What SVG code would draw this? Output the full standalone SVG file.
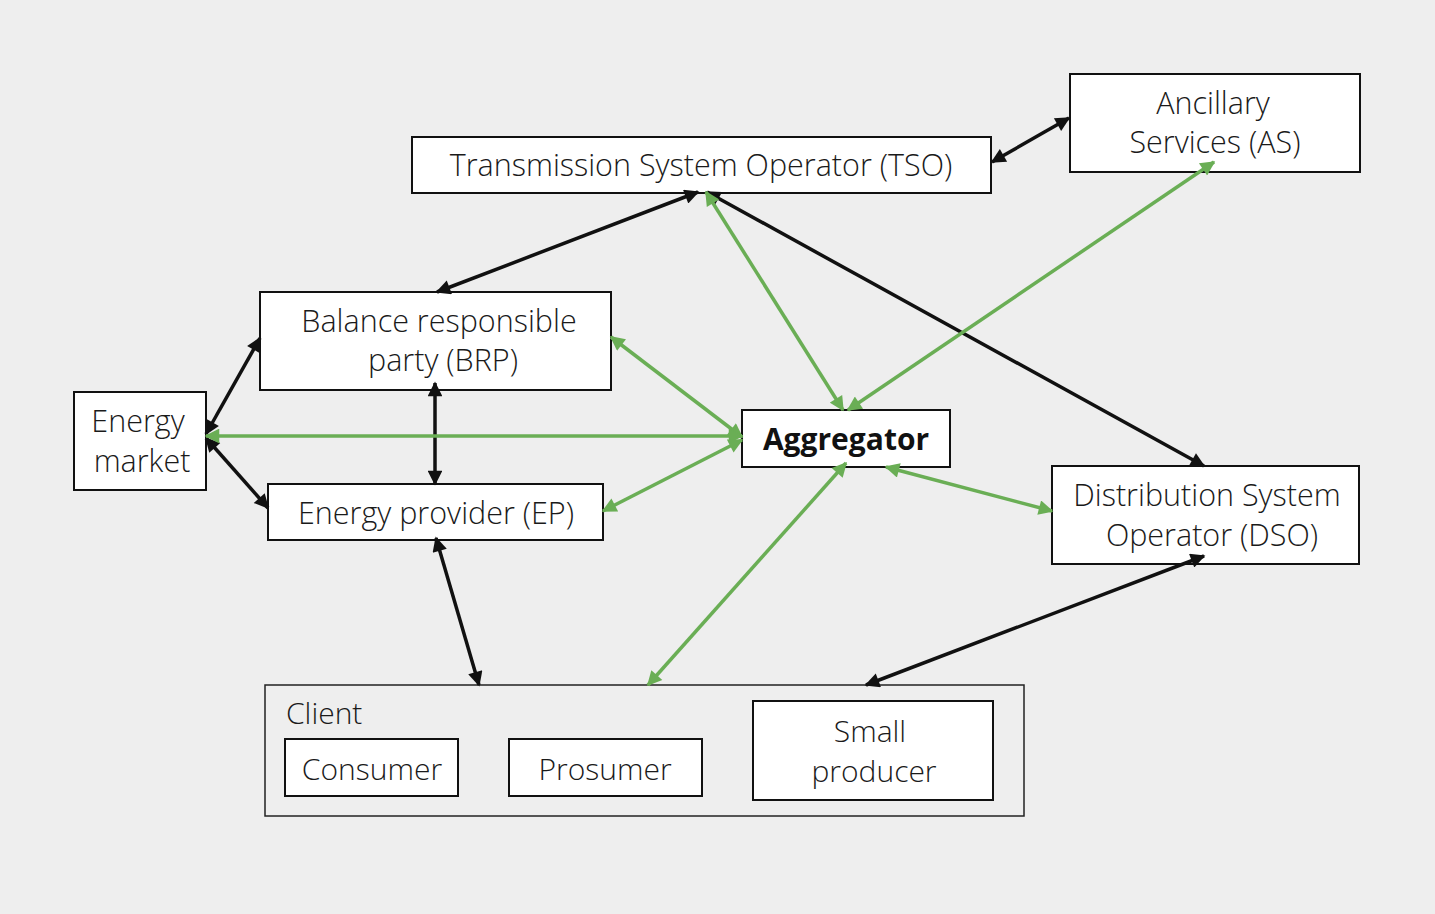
<svg xmlns="http://www.w3.org/2000/svg" width="1435" height="914" viewBox="0 0 1435 914">
<defs>
<style>
.box{fill:#fff;stroke:#111;stroke-width:2}
.t{font-family:"Open Sans","Liberation Sans",sans-serif;font-weight:300;font-size:30.5px;fill:#1a1a1a;text-anchor:middle}
.tb{font-family:"Open Sans","Liberation Sans",sans-serif;font-weight:700;font-size:30px;fill:#111;text-anchor:middle}
.tc{font-family:"Open Sans","Liberation Sans",sans-serif;font-weight:300;font-size:30px;fill:#1a1a1a;text-anchor:middle}
.k{stroke:#111;stroke-width:3.5;fill:none;marker-start:url(#ak);marker-end:url(#ak)}
.g{stroke:#6aae55;stroke-width:3.5;fill:none;marker-start:url(#ag);marker-end:url(#ag)}
</style>
<marker id="ak" viewBox="0 0 10 10" refX="9" refY="5" markerWidth="4.8" markerHeight="4.2" orient="auto-start-reverse" markerUnits="strokeWidth"><path d="M0,0 L10,5 L0,10 z" fill="#111"/></marker>
<marker id="ag" viewBox="0 0 10 10" refX="9" refY="5" markerWidth="4.8" markerHeight="4.2" orient="auto-start-reverse" markerUnits="strokeWidth"><path d="M0,0 L10,5 L0,10 z" fill="#6aae55"/></marker>
</defs>
<rect width="1435" height="914" fill="#eeeeee"/>
<g id="tso"><rect class="box" x="412" y="137" width="579" height="56"/><text class="t" x="701" y="176">Transmission System Operator (TSO)</text></g>
<g id="as"><rect class="box" x="1070" y="74" width="290" height="98"/><text class="t" x="1213" y="114">Ancillary</text><text class="t" x="1215" y="153">Services (AS)</text></g>
<g id="brp"><rect class="box" x="260" y="292" width="351" height="98"/><text class="t" x="439" y="332">Balance responsible</text><text class="t" x="443" y="371">party (BRP)</text></g>
<g id="market"><rect class="box" x="74" y="392" width="132" height="98"/><text class="t" x="138" y="432">Energy</text><text class="t" x="142" y="472">market</text></g>
<g id="aggregator"><rect class="box" x="742" y="410" width="208" height="57"/><text class="tb" x="846" y="450">Aggregator</text></g>
<g id="ep"><rect class="box" x="268" y="484" width="335" height="56"/><text class="t" x="436" y="524">Energy provider (EP)</text></g>
<g id="dso"><rect class="box" x="1052" y="466" width="307" height="98"/><text class="t" x="1207" y="506">Distribution System</text><text class="t" x="1212" y="546">Operator (DSO)</text></g>
<g id="client"><rect x="265" y="685" width="759" height="131" fill="none" stroke="#222" stroke-width="1.5"/><text class="tc" x="286" y="724" style="text-anchor:start">Client</text>
<g id="consumer"><rect class="box" x="285" y="739" width="173" height="57"/><text class="tc" x="372" y="780">Consumer</text></g>
<g id="prosumer"><rect class="box" x="509" y="739" width="193" height="57"/><text class="tc" x="605" y="780">Prosumer</text></g>
<g id="smallproducer"><rect class="box" x="753" y="701" width="240" height="99"/><text class="tc" x="870" y="742">Small</text><text class="tc" x="874" y="782">producer</text></g>
</g>
<g id="connectors">
<line class="k" x1="698" y1="192" x2="437" y2="292"/>
<line class="k" x1="707" y1="192" x2="1204" y2="466"/>
<line class="k" x1="992" y1="162" x2="1069" y2="118"/>
<line class="k" x1="206" y1="434" x2="260" y2="338"/>
<line class="k" x1="206" y1="438" x2="268" y2="508"/>
<line class="k" x1="435" y1="383" x2="435" y2="484"/>
<line class="k" x1="436" y1="538" x2="479" y2="685"/>
<line class="k" x1="1204" y1="556" x2="866" y2="685"/>
<line class="g" x1="706" y1="192" x2="843" y2="410"/>
<line class="g" x1="1214" y1="162" x2="848" y2="410"/>
<line class="g" x1="611" y1="337" x2="742" y2="437"/>
<line class="g" x1="206" y1="436" x2="742" y2="436"/>
<line class="g" x1="603" y1="511" x2="742" y2="440"/>
<line class="g" x1="846" y1="463" x2="648" y2="685"/>
<line class="g" x1="886" y1="467" x2="1052" y2="511"/>
</g>
</svg>
